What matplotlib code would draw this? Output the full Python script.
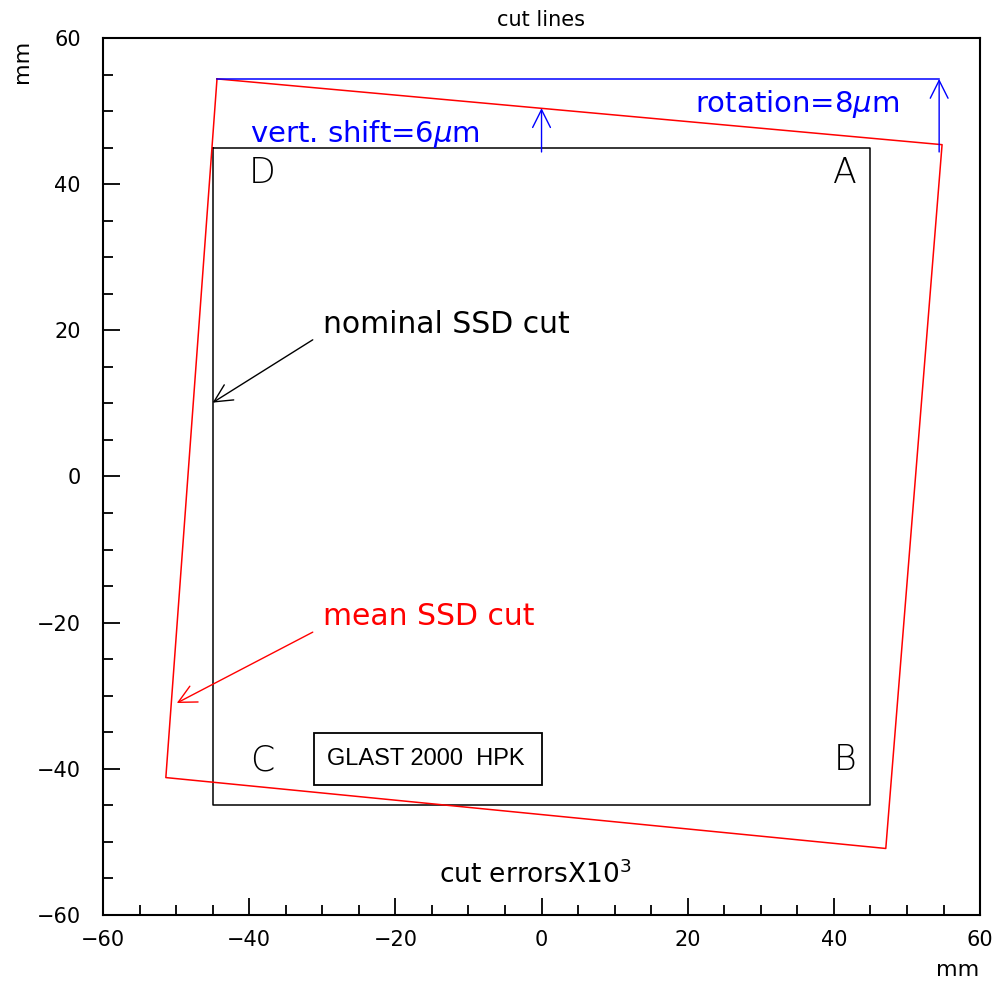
import matplotlib.pyplot as plt
from matplotlib.ticker import MultipleLocator
from matplotlib.patches import Rectangle

plt.rcParams['font.family'] = ['DejaVu Sans']

# nominal cut (square) and mean measured cut (quadrilateral), mm
nominal_x = [-45, 45, 45, -45, -45]
nominal_y = [45, 45, -45, -45, 45]
mean_x = [-44.4, 54.8, 47.1, -51.4, -44.4]
mean_y = [54.4, 45.4, -50.9, -41.2, 54.4]

corner_names = ['D', 'A', 'B', 'C']
corner_x = [-38.2, 41.5, 41.5, -38.2]
corner_y = [41.5, 41.5, -38.8, -38.8]

# reference line and arrows
ref_x = [-44.4, 54.4]
ref_y = [54.4, 54.4]
rot_arrow = [(54.4, 44.4), (54.4, 54.4)]
shift_arrow = [(0.0, 44.4), (0.0, 50.4)]
nominal_arrow = [(-31.3, 18.7), (-45.0, 10.1)]
mean_arrow = [(-31.3, -21.3), (-49.9, -31.0)]

fig = plt.figure(figsize=(9.95, 9.81), dpi=100)
ax = fig.add_axes([0.1035, 0.0673, 0.8815, 0.894])

ax.plot(nominal_x, nominal_y, color='black', lw=1.1)
ax.plot(mean_x, mean_y, color='red', lw=1.1)
ax.plot(ref_x, ref_y, color='blue', lw=1.1)

for name, x, y in zip(corner_names, corner_x, corner_y):
  ax.text(x, y, name, fontsize=25, ha='center', va='center', fontweight='light')

def arrow(pts, color):
  ax.annotate('', xy=pts[1], xytext=pts[0],
              arrowprops=dict(arrowstyle='->', color=color, lw=1.0,
                              mutation_scale=32, shrinkA=0, shrinkB=0))

arrow(rot_arrow, 'blue')
arrow(shift_arrow, 'blue')
arrow(nominal_arrow, 'black')
arrow(mean_arrow, 'red')

ax.text(21.0, 49.9, r'rotation=8$\mu$m', color='blue', fontsize=21, va='baseline')
ax.text(-39.9, 45.8, r'vert. shift=6$\mu$m', color='blue', fontsize=21, va='baseline')
ax.text(-29.9, 19.6, 'nominal SSD cut', fontsize=21.5, va='baseline')
ax.text(-29.9, -20.3, 'mean SSD cut', color='red', fontsize=21.5, va='baseline')
ax.text(-0.8, -54.5, r'cut errorsX10$^3$', fontsize=19, ha='center', va='center')

ax.add_patch(Rectangle((-31.1, -42.2), 31.15, 7.1, fill=False, lw=1.3, ec='black'))
ax.text(-15.8, -38.6, 'GLAST 2000  HPK', fontsize=17, ha='center', va='center',
        family='Liberation Sans')

ax.set_xlim(-60, 60)
ax.set_ylim(-60, 60)
ax.xaxis.set_major_locator(MultipleLocator(20))
ax.xaxis.set_minor_locator(MultipleLocator(5))
ax.yaxis.set_major_locator(MultipleLocator(20))
ax.yaxis.set_minor_locator(MultipleLocator(5))
ax.tick_params(which='both', direction='in', width=1.3, labelsize=15)
ax.tick_params(which='major', length=12)
ax.tick_params(which='minor', length=7)
ax.tick_params(axis='y', pad=16)
ax.tick_params(axis='x', pad=11)
for s in ax.spines.values():
  s.set_linewidth(1.5)

fig.text(0.544, 0.98, 'cut lines', fontsize=15, ha='center', va='center')
fig.text(0.022, 0.937, 'mm', fontsize=16, rotation=90, ha='center', va='center')
fig.text(0.962, 0.011, 'mm', fontsize=16, ha='center', va='center')

plt.savefig('out.png')
